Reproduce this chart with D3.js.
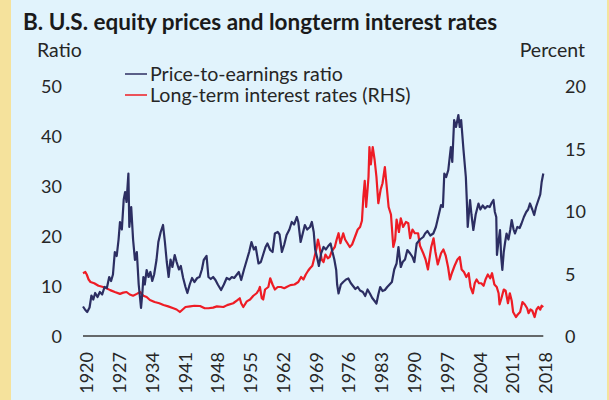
<!DOCTYPE html>
<html>
<head>
<meta charset="utf-8">
<script src="https://cdn.jsdelivr.net/npm/d3@7"></script>
<style>
  body { margin: 0; }
  svg text { font-family: Lato, "Open Sans", sans-serif; fill: #262626; }
</style>
</head>
<body>
<svg id="chart" width="609" height="400"></svg>
<script>
// values: [year, value]
var peRatio = [
  [1920.0, 6.1], [1920.5, 5.4], [1920.9, 5.0], [1921.4, 5.9], [1921.8, 8.3], [1922.2, 7.5], [1922.6, 8.8],
  [1923.1, 8.0], [1923.6, 9.0], [1924.1, 8.5], [1924.6, 10.0], [1925.1, 9.8], [1925.6, 12.0], [1926.0, 11.2],
  [1926.4, 12.5], [1926.8, 17.0], [1927.2, 16.2], [1927.6, 19.5], [1927.9, 23.0], [1928.3, 21.5], [1928.7, 27.5],
  [1929.0, 29.0], [1929.3, 27.0], [1929.7, 32.7], [1929.9, 22.0], [1930.3, 26.0], [1930.7, 19.5], [1931.1, 15.4],
  [1931.5, 17.0], [1931.9, 10.5], [1932.4, 5.8], [1932.7, 9.0], [1932.9, 12.0], [1933.2, 10.5], [1933.6, 13.4],
  [1934.0, 12.0], [1934.4, 13.0], [1934.8, 11.2], [1935.2, 12.5], [1935.7, 15.4], [1936.1, 19.0], [1936.6, 21.0],
  [1937.1, 22.4], [1937.5, 19.0], [1937.9, 15.0], [1938.3, 12.0], [1938.7, 15.5], [1939.1, 14.0], [1939.6, 16.4],
  [1940.0, 15.0], [1940.5, 13.5], [1940.9, 14.2], [1941.4, 11.8], [1941.9, 10.0], [1942.3, 8.8], [1942.8, 10.5],
  [1943.3, 11.8], [1943.8, 11.0], [1944.4, 11.8], [1944.9, 12.0], [1945.4, 13.5], [1945.8, 15.4], [1946.4, 16.2],
  [1946.8, 12.0], [1947.3, 11.6], [1947.8, 12.0], [1948.3, 11.4], [1948.8, 10.5], [1949.5, 9.4], [1950.1, 10.5],
  [1950.7, 11.8], [1951.3, 11.5], [1951.8, 12.0], [1952.3, 11.8], [1952.8, 12.4], [1953.3, 13.0], [1953.8, 11.4],
  [1954.4, 13.5], [1955.0, 15.4], [1955.5, 17.0], [1956.0, 19.0], [1956.5, 17.5], [1956.9, 18.0], [1957.5, 14.7],
  [1958.0, 15.0], [1958.5, 16.5], [1959.0, 18.0], [1959.4, 18.7], [1960.0, 17.4], [1960.5, 17.0], [1961.0, 20.7],
  [1961.6, 21.0], [1962.0, 20.5], [1962.5, 17.0], [1963.0, 18.5], [1963.5, 20.4], [1964.1, 21.5], [1964.6, 23.0],
  [1965.1, 22.5], [1965.7, 24.0], [1966.0, 23.0], [1966.5, 19.0], [1966.9, 20.5], [1967.4, 22.4], [1967.9, 21.5],
  [1968.5, 22.0], [1968.9, 23.0], [1969.3, 21.0], [1969.6, 17.5], [1970.0, 16.0], [1970.4, 14.2], [1970.9, 16.8],
  [1971.4, 18.0], [1971.9, 17.5], [1972.4, 18.2], [1972.9, 18.7], [1973.3, 17.0], [1973.7, 15.5], [1974.1, 13.4],
  [1974.3, 10.5], [1974.6, 8.7], [1975.1, 10.5], [1975.6, 11.0], [1976.2, 11.5], [1976.7, 11.7], [1977.2, 10.8],
  [1977.7, 10.2], [1978.2, 9.6], [1978.7, 10.0], [1979.2, 9.3], [1979.8, 9.0], [1980.3, 8.2], [1980.8, 9.5],
  [1981.3, 8.7], [1981.8, 7.8], [1982.3, 7.2], [1982.7, 6.7], [1983.1, 8.5], [1983.5, 10.0], [1984.0, 9.2],
  [1984.5, 9.4], [1985.0, 10.0], [1985.5, 10.5], [1986.0, 11.0], [1986.5, 13.5], [1987.0, 14.7], [1987.4, 18.0],
  [1987.9, 14.0], [1988.3, 15.0], [1988.8, 15.5], [1989.3, 17.4], [1989.9, 16.7], [1990.4, 16.0], [1990.8, 15.0],
  [1991.3, 18.7], [1992.0, 19.5], [1992.7, 20.0], [1993.1, 20.7], [1993.6, 21.2], [1994.2, 20.3], [1994.85, 20.7],
  [1995.4, 22.0], [1995.9, 24.0], [1996.5, 26.4], [1996.9, 26.0], [1997.2, 32.7], [1997.6, 32.0], [1998.05, 33.4],
  [1998.6, 38.0], [1998.9, 35.0], [1999.3, 43.4], [1999.7, 42.0], [2000.2, 44.4], [2000.5, 42.0], [2000.8, 43.4],
  [2001.3, 37.4], [2001.8, 32.0], [2002.0, 27.5], [2002.2, 22.0], [2002.7, 27.4], [2003.0, 24.5], [2003.4, 21.4],
  [2003.9, 24.5], [2004.5, 26.7], [2004.9, 25.5], [2005.4, 26.3], [2005.9, 25.7], [2006.4, 26.2], [2006.9, 26.0],
  [2007.3, 26.8], [2007.7, 27.4], [2008.0, 25.0], [2008.3, 24.0], [2008.45, 16.4], [2008.7, 18.5], [2009.1, 21.4],
  [2009.35, 16.0], [2009.6, 13.4], [2009.9, 17.0], [2010.2, 19.0], [2010.5, 20.7], [2010.9, 19.5], [2011.3, 21.5],
  [2011.6, 23.4], [2012.0, 21.5], [2012.3, 20.7], [2012.8, 22.0], [2013.3, 21.8], [2013.7, 22.7], [2014.2, 24.0],
  [2014.7, 25.0], [2015.1, 25.5], [2015.5, 26.7], [2016.0, 25.5], [2016.4, 24.4], [2016.8, 26.0], [2017.3, 27.4],
  [2017.7, 28.5], [2018.0, 31.0], [2018.35, 32.7]
];

var longRates = [
  [1920.0, 5.1], [1920.5, 5.2], [1920.8, 5.0], [1921.2, 4.6], [1921.6, 4.4], [1922.4, 4.3], [1923.3, 4.1],
  [1924.3, 4.0], [1925.0, 3.9], [1925.8, 3.75], [1926.8, 3.6], [1927.9, 3.45], [1928.6, 3.55], [1929.3, 3.6],
  [1930.0, 3.4], [1930.7, 3.3], [1931.5, 3.45], [1932.2, 3.6], [1932.9, 3.3], [1933.6, 3.2], [1934.3, 2.96],
  [1935.3, 2.8], [1936.3, 2.7], [1937.2, 2.56], [1938.2, 2.45], [1939.3, 2.3], [1940.0, 2.2], [1940.7, 2.0],
  [1941.3, 2.2], [1941.9, 2.4], [1942.9, 2.45], [1943.8, 2.5], [1945.0, 2.48], [1946.0, 2.3], [1946.8, 2.3],
  [1947.8, 2.35], [1948.6, 2.45], [1950.0, 2.4], [1950.8, 2.55], [1952.1, 2.7], [1953.0, 2.95], [1953.5, 3.1],
  [1953.8, 2.7], [1954.25, 2.4], [1955.0, 2.85], [1955.7, 3.0], [1956.4, 3.3], [1957.1, 3.5], [1957.6, 3.8],
  [1957.8, 4.0], [1958.2, 3.1], [1958.5, 3.0], [1958.9, 3.8], [1959.6, 4.0], [1960.0, 4.7], [1960.5, 4.2],
  [1961.0, 3.8], [1961.6, 4.0], [1962.3, 4.0], [1963.0, 3.9], [1963.5, 4.0], [1964.3, 4.15], [1965.2, 4.2],
  [1966.0, 4.4], [1966.6, 4.8], [1967.1, 4.6], [1967.6, 5.0], [1968.1, 5.3], [1968.5, 5.5], [1969.0, 5.7],
  [1969.4, 6.3], [1969.9, 7.1], [1970.2, 7.8], [1970.5, 7.3], [1971.0, 6.2], [1971.4, 6.0], [1971.8, 6.6],
  [1972.3, 6.3], [1972.7, 6.4], [1973.2, 6.9], [1973.8, 7.2], [1974.2, 7.8], [1974.6, 8.3], [1975.0, 7.5],
  [1975.6, 8.3], [1976.0, 7.8], [1976.5, 7.5], [1977.0, 7.2], [1977.5, 7.4], [1978.1, 8.0], [1978.7, 8.6],
  [1979.2, 8.8], [1979.6, 9.3], [1979.9, 11.2], [1980.2, 12.5], [1980.5, 10.4], [1980.8, 11.8], [1981.0, 12.8],
  [1981.2, 15.2], [1981.5, 13.8], [1981.9, 15.2], [1982.3, 14.2], [1982.7, 12.8], [1983.1, 10.7], [1983.6, 11.8],
  [1984.0, 12.3], [1984.5, 13.6], [1984.9, 12.0], [1985.3, 10.4], [1985.8, 9.8], [1986.3, 7.2], [1986.7, 7.8],
  [1987.0, 9.4], [1987.5, 8.4], [1987.9, 9.5], [1988.4, 8.8], [1989.0, 9.2], [1989.5, 9.1], [1989.9, 7.9],
  [1990.4, 8.6], [1990.9, 8.3], [1991.6, 8.3], [1992.0, 7.3], [1992.7, 6.7], [1993.2, 6.2], [1993.7, 5.4],
  [1994.4, 7.2], [1994.9, 7.9], [1995.3, 6.8], [1995.8, 5.8], [1996.5, 6.7], [1997.0, 7.0], [1997.5, 6.5],
  [1998.0, 5.6], [1998.4, 4.6], [1998.8, 5.1], [1999.4, 5.7], [2000.0, 6.2], [2000.5, 6.4], [2000.9, 5.4],
  [2001.4, 5.2], [2001.9, 4.8], [2002.4, 5.1], [2002.8, 4.0], [2003.3, 3.5], [2003.7, 4.3], [2004.1, 4.6],
  [2004.6, 4.3], [2005.1, 4.3], [2005.6, 4.1], [2006.0, 4.6], [2006.5, 5.0], [2007.0, 4.7], [2007.4, 5.1],
  [2007.9, 4.2], [2008.4, 4.0], [2008.8, 3.5], [2009.0, 2.6], [2009.4, 3.1], [2009.9, 3.8], [2010.3, 3.7],
  [2010.8, 2.7], [2011.2, 3.5], [2011.6, 2.9], [2011.9, 2.0], [2012.5, 1.6], [2012.9, 1.8], [2013.4, 2.0],
  [2013.9, 2.8], [2014.4, 2.6], [2014.9, 2.3], [2015.2, 1.9], [2015.6, 2.2], [2016.0, 2.1], [2016.5, 1.6],
  [2016.9, 2.2], [2017.3, 2.4], [2017.7, 2.2], [2018.0, 2.5], [2018.35, 2.4]
];

var yearTicks = d3.range(1920, 2019, 7);
var leftTicks = [0, 10, 20, 30, 40, 50];
var rightTicks = [0, 5, 10, 15, 20];

var seriesNames = ['Price-to-earnings ratio', 'Long-term interest rates (RHS)'];
var seriesColors = ['#2c2e62', '#ee1c25'];

var W = 609, H = 400,
    plot = { left: 83, right: 543.3, top: 87, bottom: 337 };

var svg = d3.select('#chart');

// panel background with the tan side strips
svg.append('rect').attr('width', W).attr('height', H).attr('fill', '#f5e29c');
svg.append('rect').attr('x', 11).attr('width', 596).attr('height', H).attr('fill', '#e1f3fc');

var x = d3.scaleLinear().domain([1920, 2018.35]).range([plot.left, plot.right]),
    yLeft = d3.scaleLinear().domain([0, 50]).range([plot.bottom, plot.top]),
    yRight = d3.scaleLinear().domain([0, 20]).range([plot.bottom, plot.top]);

svg.append('text')
  .attr('x', 23).attr('y', 30)
  .style('font-size', '22.5px').style('font-weight', 'bold').style('fill', '#1a1a1a')
  .text('B. U.S. equity prices and longterm interest rates');

svg.append('text').attr('x', 37).attr('y', 57).style('font-size', '19.5px').text('Ratio');
svg.append('text').attr('x', 585).attr('y', 57).attr('text-anchor', 'end')
  .style('font-size', '19.5px').text('Percent');

// left axis labels (no line)
var leftAxis = svg.append('g')
  .attr('transform', 'translate(62,0)')
  .call(d3.axisLeft(yLeft).tickValues(leftTicks).tickSize(0).tickPadding(0));
leftAxis.select('.domain').remove();

var rightAxis = svg.append('g')
  .attr('transform', 'translate(565,0)')
  .call(d3.axisRight(yRight).tickValues(rightTicks).tickSize(0).tickPadding(0));
rightAxis.select('.domain').remove();

svg.selectAll('.tick text')
  .style('font-family', 'Lato, "Open Sans", sans-serif')
  .style('font-size', '18px')
  .attr('fill', '#262626');

// bottom axis: plain line + rotated year labels
var bottomAxis = svg.append('g')
  .attr('transform', 'translate(0,' + (plot.bottom - 1) + ')')
  .call(d3.axisBottom(x).tickValues(yearTicks).tickSize(0).tickFormat(d3.format('d')));
bottomAxis.select('.domain')
  .attr('d', 'M' + plot.left + ',0H' + plot.right)
  .attr('stroke', '#3a3a3a').attr('stroke-width', 1.5);
bottomAxis.selectAll('.tick text')
  .attr('transform', 'rotate(-90)')
  .attr('text-anchor', 'end')
  .attr('x', -16).attr('y', 0).attr('dy', '0.55em')
  .style('font-family', 'Lato, "Open Sans", sans-serif')
  .style('font-size', '18px')
  .attr('fill', '#262626');

var peLine = d3.line().x(function(d) { return x(d[0]); }).y(function(d) { return yLeft(d[1]); }),
    rateLine = d3.line().x(function(d) { return x(d[0]); }).y(function(d) { return yRight(d[1]); });

svg.append('path').datum(longRates)
  .attr('d', rateLine)
  .attr('fill', 'none').attr('stroke', seriesColors[1]).attr('stroke-width', 2.2).attr('stroke-linejoin', 'round');

svg.append('path').datum(peRatio)
  .attr('d', peLine)
  .attr('fill', 'none').attr('stroke', seriesColors[0]).attr('stroke-width', 2.2).attr('stroke-linejoin', 'round');

// legend
var legend = svg.selectAll('.legend')
  .data(seriesNames)
  .enter().append('g')
    .attr('class', 'legend')
    .attr('transform', function(d, i) { return 'translate(125,' + (74 + i * 21) + ')'; });

legend.append('line')
  .attr('x1', 0).attr('x2', 22).attr('y1', 0).attr('y2', 0)
  .attr('stroke', function(d, i) { return seriesColors[i]; })
  .attr('stroke-width', 1.5);

legend.append('text')
  .attr('x', 25).attr('dy', '0.35em')
  .style('font-size', '19.6px')
  .text(function(d) { return d; });
</script>
</body>
</html>
